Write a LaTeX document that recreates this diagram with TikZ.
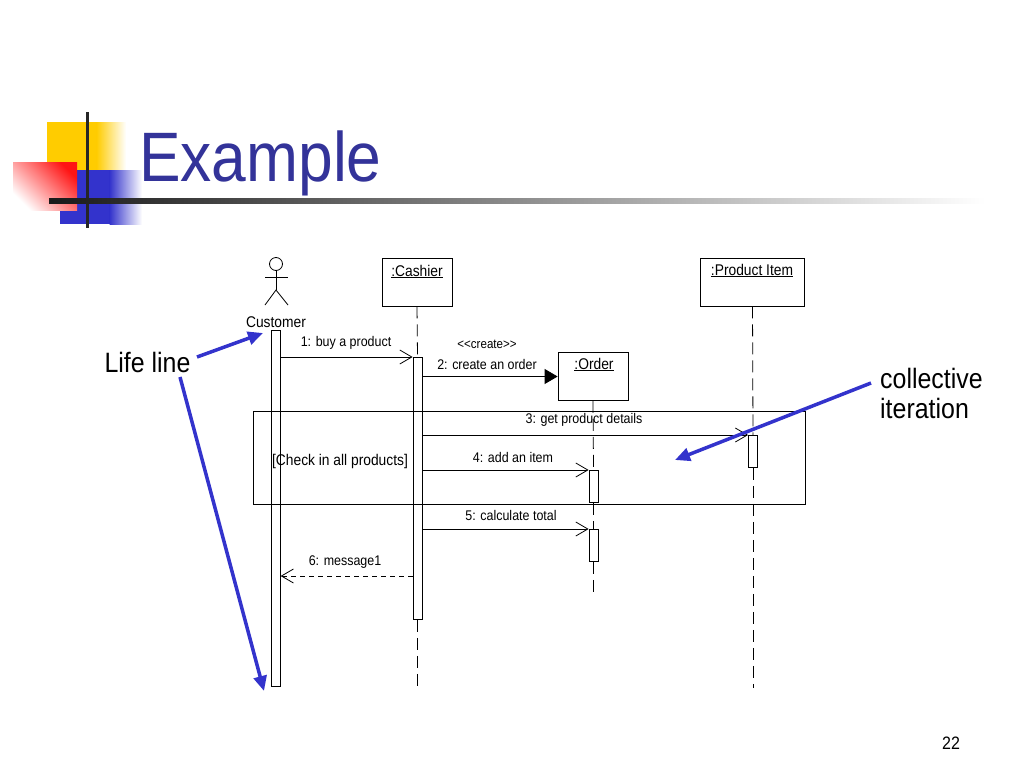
\documentclass[tikz,border=0pt]{standalone}
\usepackage{fontspec}
\setmainfont{Liberation Sans}[FakeStretch=0.89]
\usetikzlibrary{arrows.meta,calc}
\definecolor{titleblue}{RGB}{51,51,153}
\definecolor{arrowblue}{RGB}{51,51,204}
\definecolor{sqyellow}{RGB}{255,204,0}
\definecolor{sqblue}{RGB}{51,51,204}
\definecolor{sqred}{RGB}{255,20,20}
\begin{document}
\begin{tikzpicture}[x=1pt,y=-1pt,
  objbox/.style={draw,line width=0.8pt,minimum width=70pt,minimum height=48pt,inner sep=0pt},
  actbar/.style={draw,fill=white,line width=0.8pt,minimum width=9pt,inner sep=0pt,anchor=north},
  lifel/.style={line width=0.8pt,dash pattern=on 12pt off 6pt},
  msg/.style={line width=0.8pt,-{Straight Barb[length=12pt,width=14pt,line width=0.8pt]}},
  createmsg/.style={line width=0.8pt,-{Triangle[length=13pt,width=15pt]}},
  retmsg/.style={msg,dash pattern=on 5pt off 4pt},
  lbl/.style={font=\fontsize{14}{16}\selectfont,inner sep=0pt,anchor=base},
  nm/.style={font=\fontsize{15.5}{18}\selectfont,inner sep=0pt,anchor=base},
  bignote/.style={font=\fontsize{28}{30}\selectfont,inner sep=0pt},
  pointer/.style={line width=3.5pt,draw=arrowblue,-{Triangle[length=15pt,width=13pt]}},
  stick/.style={line width=0.8pt}]
\useasboundingbox (0,0) rectangle (1024,768);
\fill[white] (0,0) rectangle (1024,768);

% ---- title decoration ----
\fill[sqyellow] (47,122) rectangle (97,172);
\shade[left color=sqyellow,right color=white] (96.5,122) rectangle (126,172);
\fill[sqblue] (60,170) rectangle (110,224);
\shade[left color=sqblue,right color=white] (109.5,170) rectangle (142,224);
\shade[top color=sqred,bottom color=white,shading angle=-45] (13,162) rectangle (77,210);
\fill[black!85] (85.5,112) rectangle (89,228);
\shade[left color=black!90,right color=white] (49,198.5) rectangle (985,203);
\node[anchor=base west,text=titleblue,font=\fontsize{70}{80}\selectfont,inner sep=0pt] (title) at (139,181) {Example};

% ---- actor ----
\node[draw,circle,minimum size=13pt,inner sep=0pt,line width=0.8pt] (head) at (276,264) {};
\coordinate (hip) at (276,290);
\coordinate (armL) at (265,277);
\coordinate (armR) at (288,277);
\coordinate (legL) at (265,305);
\coordinate (legR) at (288,305);
\draw[stick] (head.south) -- (hip);
\draw[stick] (armL) -- (armR);
\draw[stick] (legL) -- (hip) -- (legR);
\node[nm] (custname) at (276,327) {Customer};

% ---- objects ----
\node[objbox] (cashier) at (417,282) {};
\node[nm] (cashname) at (417,276) {\underline{:Cashier}};
\node[objbox] (order) at (593,376.5) {};
\node[nm] (ordername) at (594,369) {\underline{:Order}};
\node[objbox,minimum width=104pt] (product) at (752.5,282) {};
\node[nm] (prodname) at (752,275) {\underline{:Product Item}};

% ---- activation bars ----
\node[actbar,minimum width=8.5pt,minimum height=356pt] (custbar) at (276,329.5) {};
\node[actbar,minimum height=262pt] (cashbar) at (417.5,357) {};
\node[actbar,minimum height=32pt] (obar1) at (593.5,470) {};
\node[actbar,minimum height=32pt] (obar2) at (593.5,529) {};
\node[actbar,minimum height=32pt] (pbar) at (753,435) {};

% ---- lifelines ----
\coordinate (cashend) at (417.5,688);
\coordinate (orderend) at (593.5,595);
\coordinate (prodend) at (753,688);
\draw[lifel] (cashier.south) -- (cashbar.north);
\draw[lifel] (cashbar.south) -- (cashend);
\draw[lifel] (order.south) -- (obar1.north);
\draw[lifel] (obar1.south) -- (obar2.north);
\draw[lifel] (obar2.south) -- (orderend);
\draw[lifel] (product.south) -- (pbar.north);
\draw[lifel] (pbar.south) -- (prodend);

% ---- combined fragment ----
\node[draw,line width=0.8pt,minimum width=552pt,minimum height=93pt,inner sep=0pt,anchor=north west] (frame) at (253,411) {};
\node[lbl,font=\fontsize{15.5}{17}\selectfont] (guard) at (340,465) {[Check in all products]};

% ---- messages ----
\coordinate (m6) at (0,576);
\draw[msg] (custbar.east |- cashbar.north) -- (cashbar.north west);
\draw[createmsg] (cashbar.east |- order.west) -- (order.west);
\draw[msg] (cashbar.east |- pbar.north) -- (pbar.north west);
\draw[msg] (cashbar.east |- obar1.north) -- (obar1.north west);
\draw[msg] (cashbar.east |- obar2.north) -- (obar2.north west);
\draw[retmsg] (cashbar.west |- m6) -- (custbar.east |- m6);

\node[lbl] (l1) at (346,346) {1: buy a product};
\node[lbl,font=\fontsize{13}{15}\selectfont] (lcreate) at (487,348) {<\kern0pt<create>\kern0pt>};
\node[lbl] (l2) at (487,369) {2: create an order};
\node[lbl] (l3) at (584,423) {3: get product details};
\node[lbl] (l4) at (513,462) {4: add an item};
\node[lbl] (l5) at (511,520) {5: calculate total};
\node[lbl] (l6) at (345,565) {6: message1};

% ---- annotations ----
\node[bignote,anchor=base] (lifetxt) at (147.5,372) {Life line};
\node[bignote,anchor=base west] (coll1) at (880,388) {collective};
\node[bignote,anchor=base west] (coll2) at (880,418) {iteration};
\coordinate (aStart) at (197,357);
\coordinate (aTip) at (263,333);
\coordinate (bStart) at (180,377);
\coordinate (bTip) at (264,691);
\coordinate (cStart) at (871,383);
\coordinate (cTip) at (675,460);
\draw[pointer] (aStart) -- (aTip);
\draw[pointer] (bStart) -- (bTip);
\draw[pointer] (cStart) -- (cTip);

\node[font=\fontsize{18}{20}\selectfont,inner sep=0pt,anchor=base] (pagenum) at (951,749) {22};
\end{tikzpicture}
\end{document}
